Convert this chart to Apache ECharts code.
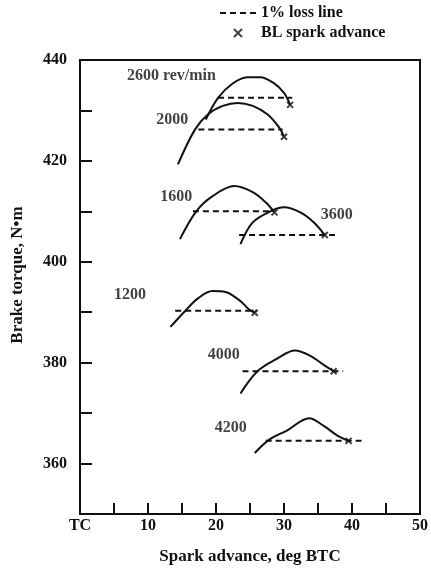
<!DOCTYPE html>
<html>
<head>
<meta charset="utf-8">
<script src="https://cdn.jsdelivr.net/npm/echarts@6/dist/echarts.min.js"></script>
<style>
  html, body { margin: 0; padding: 0; background: #fff; }
  #chart { width: 431px; height: 571px; }
</style>
</head>
<body>
<div id="chart"></div>
<script>
// Brake torque vs spark advance at several engine speeds (rev/min)
const curve2600 = [[18.5,428.2],[20.3,432.5],[22.4,435.3],[24.6,436.6],[26.5,436.6],[28.4,435.5],[30.0,433.5],[30.9,431.1]];
const curve2000 = [[14.4,419.3],[16.9,426.2],[18.8,429.2],[21.0,430.9],[23.2,431.5],[25.4,430.9],[27.6,429.2],[29.3,426.6],[30.0,424.8]];
const curve1600 = [[14.7,404.5],[17.1,410.0],[19.5,413.0],[22.7,415.0],[25.4,413.8],[27.3,411.8],[28.6,409.8]];
const curve3600 = [[23.6,403.5],[25.4,407.8],[28.0,410.0],[30.0,410.8],[32.4,409.8],[34.4,407.8],[36.0,405.3]];
const curve1200 = [[13.3,387.1],[15.5,390.3],[17.3,392.7],[19.5,394.2],[21.4,394.0],[23.5,392.3],[24.9,390.5],[25.7,389.9]];
const curve4000 = [[23.6,373.9],[26.1,378.3],[29.0,380.8],[31.6,382.4],[33.8,381.4],[36.0,379.4],[37.3,378.3]];
const curve4200 = [[25.7,362.1],[27.8,364.7],[30.5,366.6],[33.7,369.0],[35.9,367.4],[37.8,365.6],[39.5,364.5]];

// 1% loss lines: [start advance, end advance, torque]
const loss2600 = [20.3, 31.2, 432.5];
const loss2000 = [17.4, 29.8, 426.2];
const loss1600 = [16.6, 28.0, 410.0];
const loss3600 = [23.4, 37.5, 405.3];
const loss1200 = [14.0, 26.0, 390.3];
const loss4000 = [23.9, 38.7, 378.3];
const loss4200 = [27.3, 41.4, 364.5];

// Curve captions and their anchor points (advance, torque)
const speedNames = ['2600 rev/min', '2000', '1600', '3600', '1200', '4000', '4200'];
const speedAnchors = [[6.9,436.8],[11.2,428.2],[11.8,412.8],[35.4,409.4],[5.0,393.5],[18.8,381.6],[19.8,367.0]];

const xTicks = [0, 10, 20, 30, 40, 50];
const xTickText = ['TC', '10', '20', '30', '40', '50'];
const yTicks = [360, 380, 400, 420, 440];

const curves = [curve2600, curve2000, curve1600, curve3600, curve1200, curve4000, curve4200];
const lossLines = [loss2600, loss2000, loss1600, loss3600, loss1200, loss4000, loss4200];

const FONT = '"Liberation Serif", "DejaVu Serif", serif';
const textBase = { fontFamily: FONT, fontWeight: 'bold', fontSize: 16, color: '#111' };
const crossPath = 'path://M0,0L10,10M10,0L0,10';

const series = [];
curves.forEach(function (c) {
  series.push({
    type: 'line', name: 'curve', data: c, smooth: 0.35, symbol: 'none',
    lineStyle: { color: '#111', width: 2 }, silent: true, z: 3
  });
});
lossLines.forEach(function (l) {
  series.push({
    type: 'line', name: '1% loss line', data: [[l[0], l[2]], [l[1], l[2]]], symbol: 'none',
    itemStyle: { color: 'transparent' },
    lineStyle: { color: '#111', width: 2, type: [6, 4] }, silent: true, z: 2
  });
});
// borderline spark advance: end of each curve
series.push({
  type: 'scatter', name: 'BL spark advance',
  data: curves.map(function (c) { return c[c.length - 1]; }),
  symbol: crossPath, symbolSize: 6,
  itemStyle: { color: 'none', borderColor: '#111', borderWidth: 2 }, z: 4
});
series.push({
  type: 'scatter', name: 'captions',
  data: speedAnchors.map(function (p, i) { return { value: p, name: speedNames[i] }; }),
  symbolSize: 0,
  label: Object.assign({ show: true, position: 'right', distance: 0, formatter: '{b}' }, textBase),
  silent: true, z: 5
});

const chart = echarts.init(document.getElementById('chart'), null, { renderer: 'canvas' });
chart.setOption({
  backgroundColor: '#fff',
  animation: false,
  legend: {
    orient: 'vertical', left: 219, top: 5, itemGap: 4, itemWidth: 36, itemHeight: 8,
    padding: 0,
    data: ['1% loss line', 'BL spark advance'],
    textStyle: textBase, selectedMode: false
  },
  grid: {
    left: 80, right: 7, top: 60, bottom: 57,
    show: true, borderColor: '#111', borderWidth: 2, backgroundColor: 'transparent'
  },
  xAxis: {
    type: 'value', min: 0, max: 50, interval: 5,
    name: 'Spark advance, deg BTC', nameLocation: 'middle', nameGap: 34,
    nameTextStyle: Object.assign({}, textBase, { fontSize: 17 }),
    axisLine: { lineStyle: { color: '#111', width: 2 } },
    axisTick: { inside: true, length: 11, lineStyle: { color: '#111', width: 2 } },
    axisLabel: Object.assign({
      margin: 4,
      formatter: function (v) { const i = xTicks.indexOf(v); return i >= 0 ? xTickText[i] : ''; }
    }, textBase),
    splitLine: { show: false }
  },
  yAxis: {
    type: 'value', min: 350, max: 440, interval: 10,
    name: 'Brake torque, N\u2022m', nameLocation: 'middle', nameGap: 54, nameRotate: 90,
    nameTextStyle: Object.assign({ padding: [0, 0, 0, 24] }, textBase, { fontSize: 17 }),
    axisLine: { lineStyle: { color: '#111', width: 2 } },
    axisTick: { inside: true, length: 12, lineStyle: { color: '#111', width: 2 } },
    axisLabel: Object.assign({
      margin: 13,
      formatter: function (v) { return yTicks.indexOf(v) >= 0 ? String(v) : ''; }
    }, textBase),
    splitLine: { show: false }
  },
  series: series
});
</script>
</body>
</html>
